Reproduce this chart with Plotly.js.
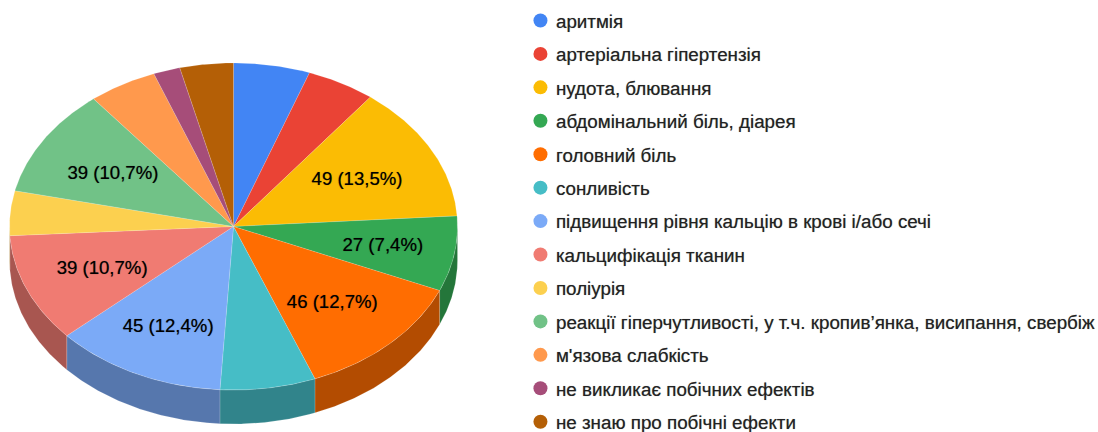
<!DOCTYPE html>
<html><head><meta charset="utf-8">
<script src="https://cdn.plot.ly/plotly-3.0.1.min.js"></script>
<style>html,body{margin:0;padding:0;background:#fff}#c{width:1098px;height:432px}</style>
</head><body><div id="c"></div>
<script>
const categories = ["аритмія","артеріальна гіпертензія","нудота, блювання","абдомінальний біль, діарея","головний біль","сонливість","підвищення рівня кальцію в крові і/або сечі","кальцифікація тканин","поліурія","реакції гіперчутливості, у т.ч. кропив’янка, висипання, свербіж","м'язова слабкість","не викликає побічних ефектів","не знаю про побічні ефекти"];
const values = [20,18,49,27,46,25,45,39,16,39,18,7,14];
const colors = ["#4285f4","#ea4335","#fbbc04","#34a853","#ff6d01","#46bdc6","#7baaf7","#f07b72","#fcd04f","#71c287","#ff994d","#a64d79","#b45f06"];
const minLabelled = 26;
const labelNudge = [[-3,3],[8,2],[-1,2],[-3,7],[1,3],[1,3]];

const cx=233.5, cy=226.5, rx=224, ry=163.5, depth=34;
const font="Liberation Sans, Arial, sans-serif";
const total=values.reduce((a,b)=>a+b,0);
const pt=(deg,r=1)=>{const a=deg*Math.PI/180;return [cx+rx*r*Math.sin(a),cy-ry*r*Math.cos(a)];};
const dark=h=>{const n=parseInt(h.slice(1),16);const f=.7;return `rgb(${Math.round((n>>16)*f)},${Math.round(((n>>8)&255)*f)},${Math.round((n&255)*f)})`;};
const arc=(a,b)=>{const out=[];const n=Math.max(2,Math.ceil((b-a)*2));for(let i=0;i<=n;i++)out.push(a+(b-a)*i/n);return out;};

const sides=[],tops=[],legendT=[];
let lx=[],ly=[],lt=[],acc=0;
values.forEach((v,i)=>{
  const a=acc/total*360,b=(acc+v)/total*360;acc+=v;
  const fa=Math.max(a,90),fb=Math.min(b,270);
  if(fb>fa){
    const p=arc(fa,fb).map(d=>pt(d));
    const x=p.map(q=>q[0]).concat(p.slice().reverse().map(q=>q[0]));
    const y=p.map(q=>q[1]).concat(p.slice().reverse().map(q=>q[1]+depth));
    x.push(x[0]);y.push(y[0]);
    sides.push({x,y,mode:'lines',fill:'toself',fillcolor:dark(colors[i]),line:{color:'rgba(255,255,255,.25)',width:.6},hoverinfo:'skip',showlegend:false});
  }
  const p=arc(a,b).map(d=>pt(d));
  const x=[cx,...p.map(q=>q[0]),cx],y=[cy,...p.map(q=>q[1]),cy];
  tops.push({x,y,mode:'lines',fill:'toself',fillcolor:colors[i],line:{color:'rgba(255,255,255,.25)',width:.6},hoverinfo:'skip',showlegend:false});
  if(v>=minLabelled){
    const pct=(v/total*100).toFixed(1).replace('.',',');
    const q=pt((a+b)/2,.64), n=labelNudge[lt.length];
    lx.push(q[0]+n[0]);ly.push(q[1]+n[1]);lt.push(`${v} (${pct}%)`);
  }
  legendT.push({x:[null],y:[null],mode:'markers',name:categories[i],legendgroup:'g'+i,marker:{color:colors[i],size:14,symbol:'circle'},hoverinfo:'skip'});
});
const labels={x:lx,y:ly,text:lt,mode:'text',textposition:'middle center',textfont:{family:font,size:18.6,color:'#000',shadow:'0 0 .8px rgba(0,0,0,.55)'},hoverinfo:'skip',showlegend:false};
const ax={visible:false,autorange:false,fixedrange:true};
Plotly.newPlot('c',[...legendT,...sides,...tops,labels],{
  width:1098,height:432,margin:{l:0,r:0,t:0,b:0,autoexpand:false},
  paper_bgcolor:'#fff',plot_bgcolor:'#fff',
  xaxis:{...ax,range:[0,1098]},yaxis:{...ax,range:[432,0]},
  showlegend:true,
  legend:{x:0.474,xanchor:'left',y:0.996,yanchor:'top',traceorder:'grouped',tracegroupgap:6,itemclick:false,itemdoubleclick:false,bgcolor:'rgba(0,0,0,0)',font:{family:font,size:18.8,color:'#222',shadow:'0 0 .8px rgba(0,0,0,.45)'}}
},{displayModeBar:false,staticPlot:true}).then(()=>{
  document.querySelectorAll('#c .legendtext').forEach(t=>t.setAttribute('x',35.5));
  document.querySelectorAll('#c .legend, #c .legend .scrollbox').forEach(g=>{g.removeAttribute('clip-path');g.style.clipPath='none';});
  const bar=document.querySelector('#c .legend .scrollbar');if(bar)bar.remove();
});
</script></body></html>
